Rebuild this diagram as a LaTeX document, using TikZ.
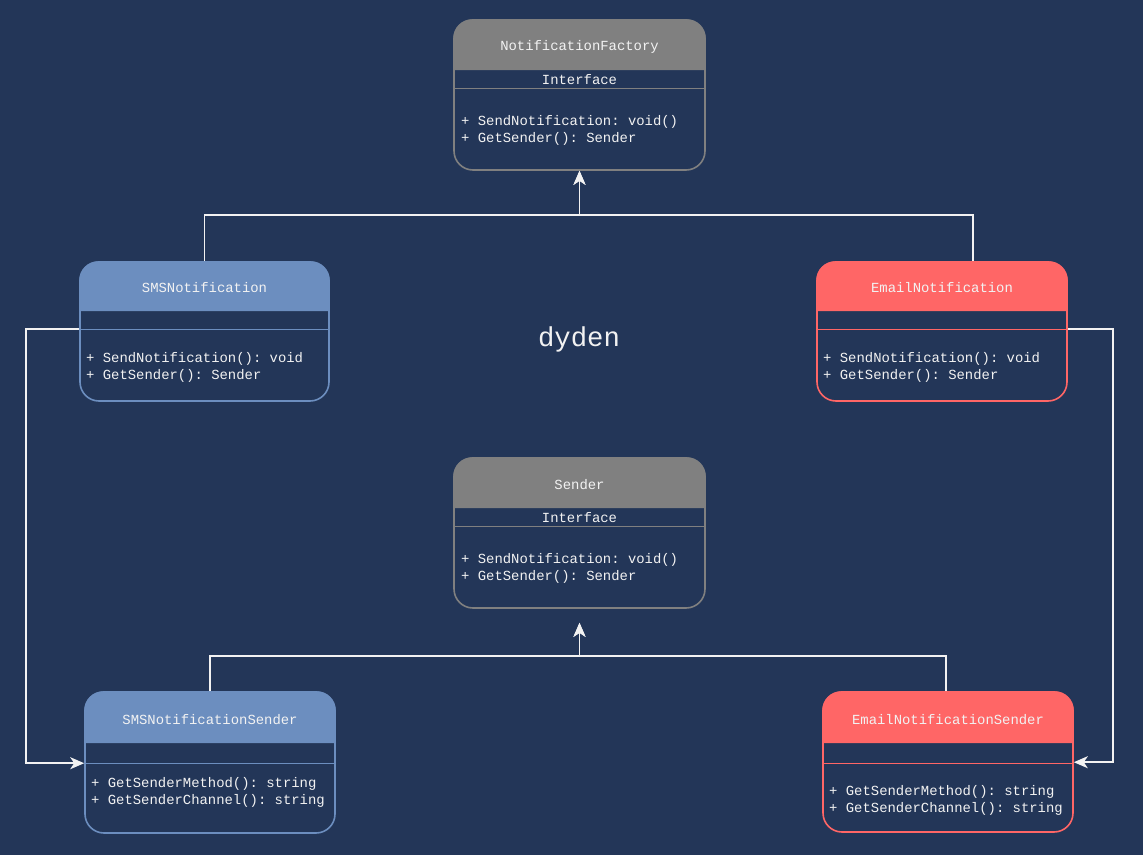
\documentclass[tikz,border=0pt]{standalone}
\usepackage{fontspec}
\setmonofont{Liberation Mono}
\usetikzlibrary{calc}
\usetikzlibrary{arrows.meta}

\definecolor{bgnavy}{RGB}{35,54,88}
\definecolor{hdrgray}{RGB}{128,128,128}
\definecolor{hdrblue}{RGB}{108,142,191}
\definecolor{hdrred}{RGB}{255,102,102}
\definecolor{txtwhite}{RGB}{242,242,242}

\begin{document}
\begin{tikzpicture}[x=1pt, y=-1pt]
    \tikzstyle{umlbox} = [draw, line width=1.6pt, rounded corners=19pt, fill=bgnavy, inner sep=0pt, minimum width=250pt]
    \tikzstyle{title} = [text=txtwhite, inner sep=0pt, font=\ttfamily\fontsize{13.9}{17}\selectfont]
    \tikzstyle{members} = [title, align=left, anchor=west]
    \tikzstyle{sep} = [line width=0.8pt]
    \tikzstyle{link} = [draw=txtwhite, line width=1.8pt]
    \tikzstyle{head} = [-{Stealth[length=14pt, width=12pt, inset=4pt]}]

    \useasboundingbox (0,0) rectangle (1143,855);
    \fill[bgnavy] (0,0) rectangle (1143,855);

    % NotificationFactory
    \node[umlbox, draw=hdrgray, minimum width=251pt, minimum height=150pt] (fac) at (579.5,95) {};
    \fill[hdrgray] ($(fac.north west)+(0,51)$) [rounded corners=19pt] -- (fac.north west) -- (fac.north east) [sharp corners] -- ($(fac.north east)+(0,51)$) -- cycle;
    \draw[hdrgray, sep] ($(fac.north west)+(0,69)$) -- ($(fac.north east)+(0,69)$);
    \node[title] (facname) at (579.5,47) {NotificationFactory};
    \node[title] (facint) at (579.5,80) {Interface};
    \node[members] (facops) at (461,130.5) {+ SendNotification: void()\\+ GetSender(): Sender};

    % SMSNotification
    \node[umlbox, draw=hdrblue, minimum width=249pt, minimum height=139pt] (sms) at (204.5,331.5) {};
    \fill[hdrblue] ($(sms.north west)+(0,50)$) [rounded corners=19pt] -- (sms.north west) -- (sms.north east) [sharp corners] -- ($(sms.north east)+(0,50)$) -- cycle;
    \draw[hdrblue, sep] ($(sms.north west)+(0,68)$) -- ($(sms.north east)+(0,68)$);
    \node[title] (smsname) at (204.5,288) {SMSNotification};
    \node[members] (smsops) at (86,367) {+ SendNotification(): void\\+ GetSender(): Sender};

    % EmailNotification
    \node[umlbox, draw=hdrred, minimum width=250pt, minimum height=139pt] (email) at (942,331.5) {};
    \fill[hdrred] ($(email.north west)+(0,50)$) [rounded corners=19pt] -- (email.north west) -- (email.north east) [sharp corners] -- ($(email.north east)+(0,50)$) -- cycle;
    \draw[hdrred, sep] ($(email.north west)+(0,68)$) -- ($(email.north east)+(0,68)$);
    \node[title] (emailname) at (942,288) {EmailNotification};
    \node[members] (emailops) at (823,367) {+ SendNotification(): void\\+ GetSender(): Sender};

    % Sender
    \node[umlbox, draw=hdrgray, minimum width=251pt, minimum height=150pt] (snd) at (579.5,533) {};
    \fill[hdrgray] ($(snd.north west)+(0,51)$) [rounded corners=19pt] -- (snd.north west) -- (snd.north east) [sharp corners] -- ($(snd.north east)+(0,51)$) -- cycle;
    \draw[hdrgray, sep] ($(snd.north west)+(0,69)$) -- ($(snd.north east)+(0,69)$);
    \node[title] (sndname) at (579.5,485) {Sender};
    \node[title] (sndint) at (579.5,518) {Interface};
    \node[members] (sndops) at (461,568.5) {+ SendNotification: void()\\+ GetSender(): Sender};

    % SMSNotificationSender
    \node[umlbox, draw=hdrblue, minimum width=250pt, minimum height=141pt] (smss) at (210,762.5) {};
    \fill[hdrblue] ($(smss.north west)+(0,52)$) [rounded corners=19pt] -- (smss.north west) -- (smss.north east) [sharp corners] -- ($(smss.north east)+(0,52)$) -- cycle;
    \draw[hdrblue, sep] ($(smss.north west)+(0,72)$) -- ($(smss.north east)+(0,72)$);
    \node[title] (smssname) at (210,720) {SMSNotificationSender};
    \node[members] (smssops) at (91,792.5) {+ GetSenderMethod(): string\\+ GetSenderChannel(): string};

    % EmailNotificationSender
    \node[umlbox, draw=hdrred, minimum width=250pt, minimum height=140pt] (emls) at (948,762) {};
    \fill[hdrred] ($(emls.north west)+(0,52)$) [rounded corners=19pt] -- (emls.north west) -- (emls.north east) [sharp corners] -- ($(emls.north east)+(0,52)$) -- cycle;
    \draw[hdrred, sep] ($(emls.north west)+(0,72)$) -- ($(emls.north east)+(0,72)$);
    \node[title] (emlsname) at (948,720) {EmailNotificationSender};
    \node[members] (emlsops) at (829,800.5) {+ GetSenderMethod(): string\\+ GetSenderChannel(): string};

    % caption
    \node[text=txtwhite, font=\ttfamily\fontsize{27.3}{30}\selectfont] (dyden) at (579,339) {dyden};

    % connectors
    \draw[link, head] (sms.north) -- ++(0,-46) -| (fac.south);
    \draw[link, head] ($(email.north)+(31,0)$) -- ++(0,-46) -| (fac.south);
    \draw[link, head] (smss.north) -- ++(0,-35) -| ($(snd.south)+(0,14)$);
    \draw[link, head] ($(emls.north)+(-2,0)$) -- ++(0,-35) -| ($(snd.south)+(0,14)$);
    \draw[link, head] ($(sms.north west)+(0,68)$) -- ++(-53,0) |- ($(smss.north west)+(0,72)$);
    \draw[link, head] ($(email.north east)+(0,68)$) -- ++(45,0) |- ($(emls.north east)+(0,71)$);
\end{tikzpicture}
\end{document}
